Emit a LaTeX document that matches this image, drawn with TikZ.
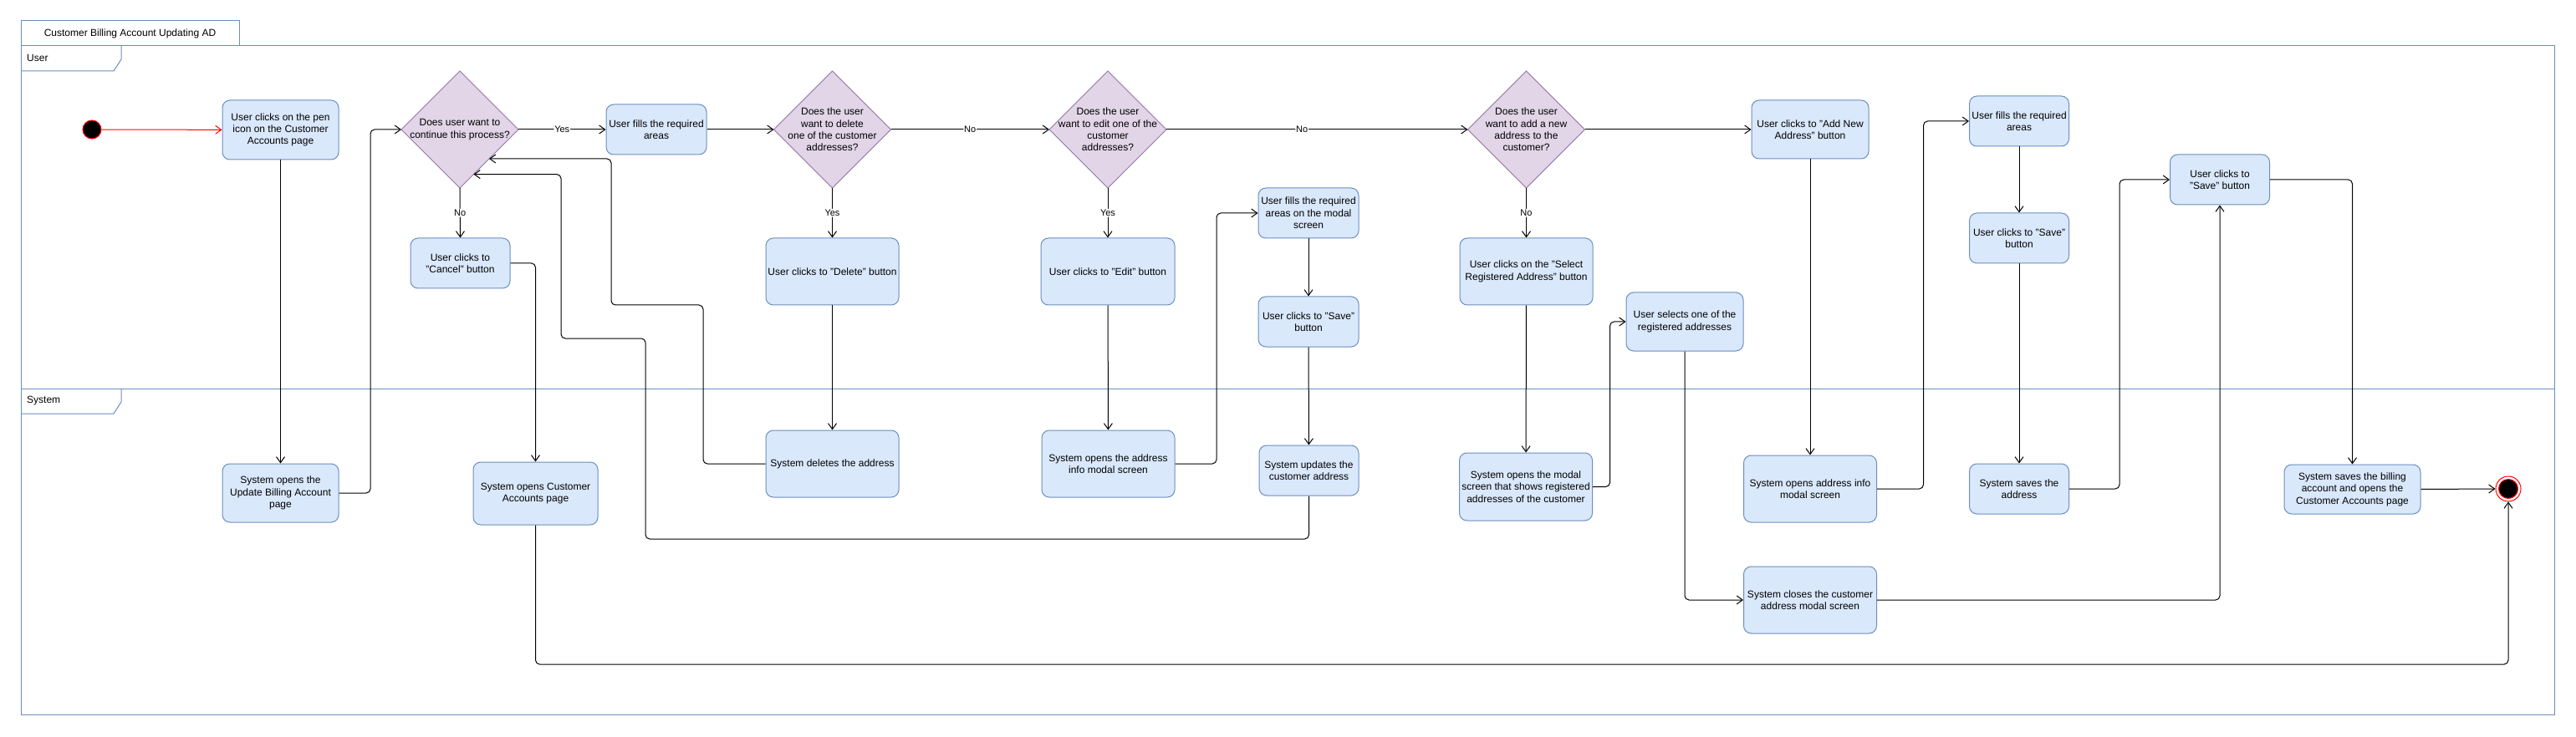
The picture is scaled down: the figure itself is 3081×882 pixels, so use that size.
\documentclass[tikz,border=0pt]{standalone}
\usepackage{fontspec}
\setmainfont{Liberation Sans}
\usetikzlibrary{shapes.geometric,arrows.meta}
\definecolor{laneblue}{HTML}{6C8EBF}
\definecolor{boxfill}{HTML}{DAE8FC}
\definecolor{decfill}{HTML}{E1D5E7}
\definecolor{decdraw}{HTML}{9673A6}
\begin{document}
\begin{tikzpicture}[x=1pt,y=-1pt,
  lane/.style={draw=laneblue, line width=1pt},
  lanetext/.style={anchor=west, inner sep=0pt, font=\fontsize{12}{14.4}\selectfont},
  act/.style={draw=laneblue, fill=boxfill, rounded corners=9pt, inner sep=2pt, align=center,
    font=\fontsize{12}{14.4}\selectfont, line width=1pt},
  dec/.style={draw=decdraw, fill=decfill, diamond, aspect=1, inner sep=0pt, outer sep=0pt,
    minimum width=140pt, minimum height=140pt, line width=1pt},
  dectext/.style={align=center, inner sep=0pt, font=\fontsize{12}{14.4}\selectfont},
  flow/.style={draw=black, line width=1pt, rounded corners=5pt, -{Straight Barb[length=7pt,width=10pt]}},
  lbl/.style={fill=white, inner sep=1pt, font=\fontsize{11}{13}\selectfont}
]
\useasboundingbox (0,0) rectangle (3081,882);
\fill[white] (0,0) rectangle (3081,882);

% frame and lanes
\draw[lane] (25,25) rectangle (286,55);
\node[inner sep=0pt, font=\fontsize{12}{14.4}\selectfont] (title) at (155.5,40) {Customer Billing Account Updating AD};
\draw[lane] (25,55) rectangle (3055,855);
\draw[lane] (25,465) -- (3055,465);
\draw[lane] (145,55) -- (145,71) -- (136,85) -- (25,85);
\node[lanetext] (userlbl) at (32,69) {User};
\draw[lane] (145,465) -- (145,481) -- (136,495) -- (25,495);
\node[lanetext] (syslbl) at (32,480) {System};

% start / end
\node[circle, fill=black, draw=red, line width=1pt, minimum size=22pt, inner sep=0pt] (init) at (110,155) {};
\node[circle, fill=white, draw=red, line width=1pt, minimum size=30pt, inner sep=0pt] (final) at (3000,585) {};
\node[circle, fill=black, draw=red, line width=1pt, minimum size=23pt, inner sep=0pt] (finalin) at (final) {};

% activities
\node[act, minimum width=139pt, minimum height=71pt] (A) at (335.5,155.5) {User clicks on the pen\\icon on the Customer\\Accounts page};
\node[act, minimum width=139pt, minimum height=70pt] (B) at (335.5,590) {System opens the\\Update Billing Account\\page};
\node[act, minimum width=120pt, minimum height=60pt] (C) at (785,155) {User fills the required\\areas};
\node[act, minimum width=119pt, minimum height=60pt] (D) at (550.5,315) {User clicks to\\"Cancel" button};
\node[act, minimum width=149pt, minimum height=75pt] (E) at (640.5,590.5) {System opens Customer\\Accounts page};
\node[act, minimum width=159pt, minimum height=80pt] (G) at (995.5,325) {User clicks to "Delete" button};
\node[act, minimum width=159pt, minimum height=80pt] (H) at (995.5,555) {System deletes the address};
\node[act, minimum width=160pt, minimum height=80pt] (I) at (1325,325) {User clicks to "Edit" button};
\node[act, minimum width=159pt, minimum height=80pt] (J) at (1325.5,555) {System opens the address\\info modal screen};
\node[act, minimum width=120pt, minimum height=60pt] (K) at (1565,255) {User fills the required\\areas on the modal\\screen};
\node[act, minimum width=120pt, minimum height=60pt] (L) at (1565,385) {User clicks to "Save"\\button};
\node[act, minimum width=119pt, minimum height=60pt] (M) at (1565.5,563) {System updates the\\customer address};
\node[act, minimum width=140pt, minimum height=70pt] (N) at (2165,155) {User clicks to "Add New\\Address" button};
\node[act, minimum width=159pt, minimum height=80pt] (O) at (1825.5,325) {User clicks on the "Select\\Registered Address" button};
\node[act, minimum width=159pt, minimum height=81pt] (P) at (1825,582.5) {System opens the modal\\screen that shows registered\\addresses of the customer};
\node[act, minimum width=140pt, minimum height=70pt] (Q) at (2015,385) {User selects one of the\\registered addresses};
\node[act, minimum width=159pt, minimum height=80pt] (R) at (2165,718) {System closes the customer\\address modal screen};
\node[act, minimum width=159pt, minimum height=80pt] (S) at (2165,585) {System opens address info\\modal screen};
\node[act, minimum width=119pt, minimum height=60pt] (T) at (2415,145) {User fills the required\\areas};
\node[act, minimum width=119pt, minimum height=60pt] (U) at (2415,285) {User clicks to "Save"\\button};
\node[act, minimum width=119pt, minimum height=60pt] (V) at (2415,585) {System saves the\\address};
\node[act, minimum width=119pt, minimum height=60pt] (X) at (2655,215) {User clicks to\\"Save" button};
\node[act, minimum width=163pt, minimum height=59pt] (F) at (2813.5,585.5) {System saves the billing\\account and opens the\\Customer Accounts page};

% decisions
\node[dec] (d1) at (550,155) {};
\node[dectext] (d1t) at (d1) {Does user want to\\continue this process?};
\node[dec] (d2) at (995.5,155) {};
\node[dectext] (d2t) at (d2) {Does the user\\want to delete\\one of the customer\\addresses?};
\node[dec] (d3) at (1325,155) {};
\node[dectext] (d3t) at (d3) {Does the user\\want to edit one of the\\customer\\addresses?};
\node[dec] (d4) at (1825.5,155) {};
\node[dectext] (d4t) at (d4) {Does the user\\want to add a new\\address to the\\customer?};

% flows
\draw[flow, draw=red] (init) -- (A);
\draw[flow] (A) -- (B);
\draw[flow] (B.east) -- (443,590) |- (d1.west);
\draw[flow] (d1.east) -- node[lbl] (l1) {Yes} (C.west);
\draw[flow] (d1.south) -- node[lbl] (l2) {No} (D.north);
\draw[flow] (D.east) -| (E.north);
\draw[flow] (E.south) -- (640.5,795) -| (final.south);
\draw[flow] (C.east) -- (d2.west);
\draw[flow] (d2.south) -- node[lbl] (l3) {Yes} (G.north);
\draw[flow] (G) -- (H);
\draw[flow] (H.west) -- (841,555) -- (841,365) -- (731,365) |- (d1.-45);
\draw[flow] (d2.east) -- node[lbl] (l4) {No} (d3.west);
\draw[flow] (d3.south) -- node[lbl] (l5) {Yes} (I.north);
\draw[flow] (I) -- (J);
\draw[flow] (J.east) -- (1455,555) |- (K.west);
\draw[flow] (K) -- (L);
\draw[flow] (L) -- (M);
\draw[flow] (M.south) -- (1565.5,645) -- (772,645) -- (772,405) -- (671,405) |- (d1.-73.5);
\draw[flow] (d3.east) -- node[lbl, pos=0.45] (l6) {No} (d4.west);
\draw[flow] (d4.east) -- (N.west);
\draw[flow] (d4.south) -- node[lbl] (l7) {No} (O.north);
\draw[flow] (O) -- (P);
\draw[flow] (P.east) -- (1925.5,582.5) |- (Q.west);
\draw[flow] (Q.south) |- (R.west);
\draw[flow] (R.east) -| (X.south);
\draw[flow] (N) -- (S);
\draw[flow] (S.east) -- (2300.5,585) |- (T.west);
\draw[flow] (T) -- (U);
\draw[flow] (U) -- (V);
\draw[flow] (V.east) -- (2535,585) |- (X.west);
\draw[flow] (X.east) -| (F.north);
\draw[flow] (F.east) -- (final.west);
\end{tikzpicture}
\end{document}
